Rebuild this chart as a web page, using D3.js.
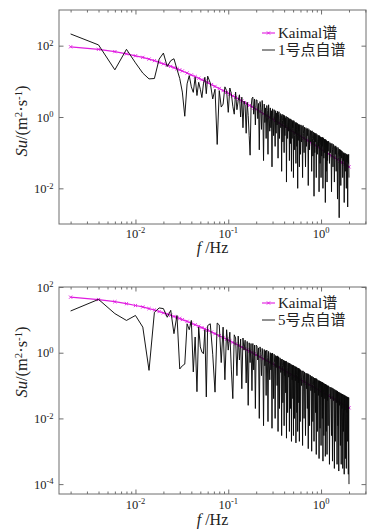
<!DOCTYPE html>
<html>
<head>
<meta charset="utf-8">
<script src="https://cdnjs.cloudflare.com/ajax/libs/d3/7.8.5/d3.min.js"></script>
<style>
  body { margin: 0; background: #fff; }
  svg text { font-family: "Liberation Serif", "Times New Roman", "Noto Sans CJK SC", serif; fill: #222; }
</style>
</head>
<body>
<script>
// spectra are sampled on bins of df = 0.002 Hz
const df = 0.002;

const bins = [
  1,2,3,4,5,6,7,8,9,10,11,12,13,14,15,16,17,18,19,20,21,22,23,24,25,26,27,28,29,30,
  32,34,36,38,40,42,44,46,48,50,52,54,56,58,60,62,64,66,68,70,72,74,76,78,80,82,84,86,88,90,92,94,96,98,100,
  102,104,106,108,110,112,114,116,118,120, 122,124,126,128,130,132,134,136,138,140,
  142,144,146,148,150,152,154,156,158,160, 162,164,166,168,170,172,174,176,178,180,
  182,184,186,188,190,192,194,196,198,200, 202,204,206,208,210,212,214,216,218,220,
  222,224,226,228,230,232,234,236,238,240, 242,244,246,248,250,252,254,256,258,260,
  262,264,266,268,270,272,274,276,278,280, 282,284,286,288,290,292,294,296,298,300,
  304,308,312,316,320,324,328,332,336,340, 344,348,352,356,360,364,368,372,376,380,
  384,388,392,396,400,404,408,412,416,420, 424,428,432,436,440,444,448,452,456,460,
  464,468,472,476,480,484,488,492,496,500, 504,508,512,516,520,524,528,532,536,540,
  544,548,552,556,560,564,568,572,576,580, 584,588,592,596,600,
  608,616,624,632,640,648,656,664,672,680, 688,696,704,712,720,728,736,744,752,760,
  768,776,784,792,800,808,816,824,832,840, 848,856,864,872,880,888,896,904,912,920,
  928,936,944,952,960,968,976,984,992,1000
];

// 1号点自谱
const su1 = [
  213,105,21,79,33,17,11.7,12,42,62, 26,38,43,22,12,5,1.05,8.5,14.5,7,
  4.9,13,4,9.4,6,3.5,8.5,13,4.5,14,
  9,3.2,6,0.17,5.5,1.9,2.3,7,5.5,1.35, 6.5,4.5,2,1.2,5,1.6,2.9,4.2,1.0,3.6,
  0.5,2.8,2.1,0.35,2.6,1.1,0.3,0.085,1.8,3.3, 3.6,1.2,3.2,0.6,3.0,
  3.0,0.9,2.4,0.12,2.7,1.8,0.45,2.9,1.3,0.06, 2.3,0.7,1.8,0.25,2.1,1.5,0.09,2.2,1.0,0.4,
  1.8,0.5,1.5,0.04,1.7,1.1,0.3,1.6,0.8,0.15, 1.5,0.35,1.3,0.6,1.45,0.07,1.2,1.4,0.25,0.9,
  1.25,0.5,1.1,0.03,1.2,0.8,0.2,1.15,0.6,0.1, 1.1,0.3,0.95,0.5,1.05,0.015,0.9,1.0,0.25,0.7,
  0.95,0.4,0.85,0.06,0.9,0.6,0.18,0.88,0.45,0.03, 0.82,0.25,0.75,0.5,0.8,0.02,0.72,0.78,0.3,0.12,
  0.72,0.35,0.66,0.05,0.7,0.45,0.15,0.68,0.3,0.01, 0.64,0.22,0.6,0.4,0.62,0.04,0.58,0.6,0.2,0.09,
  0.6,0.2,0.55,0.02,0.58,0.35,0.1,0.52,0.4,0.04, 0.5,0.15,0.46,0.3,0.48,0.012,0.44,0.45,0.12,0.3,
  0.42,0.2,0.4,0.03,0.41,0.25,0.08,0.38,0.22,0.006, 0.36,0.1,0.34,0.2,0.35,0.02,0.32,0.33,0.09,0.2,
  0.31,0.15,0.3,0.008,0.3,0.18,0.05,0.28,0.16,0.02, 0.27,0.08,0.26,0.15,0.27,0.01,0.25,0.26,0.07,0.14,
  0.24,0.1,0.23,0.004,0.235,0.13,0.03,0.22,0.12,0.015, 0.21,0.06,0.2,0.11,0.21,
  0.2,0.05,0.19,0.1,0.18,0.008,0.18,0.12,0.04,0.17, 0.16,0.015,0.15,0.09,0.155,0.03,0.14,0.1,0.005,0.14,
  0.13,0.06,0.0015,0.125,0.08,0.12,0.012,0.115,0.07,0.11, 0.105,0.02,0.1,0.06,0.1,0.004,0.095,0.07,0.03,0.095,
  0.09,0.01,0.09,0.055,0.088,0.003,0.085,0.05,0.09,0.02
];

// 5号点自谱
const su5 = [
  18.6,42,15.5,9.6,13.6,6.0,0.29,17,23,22, 12,19.5,3.8,13.6,0.32,0.4,0.45,7.6,5,9.6,
  0.26,3,0.065,6,1.5,1.05,0.93,5,0.045,6.7,
  7.6,0.9,0.063,8,7,0.5,6,0.15,5,1.2, 4.2,0.3,0.04,3.5,2.8,0.2,3.2,0.6,2.6,0.08,
  2.8,1.2,2.4,0.12,2.2,0.025,2.0,0.5,1.9,0.07, 1.9,0.3,1.7,0.02,1.7,
  1.6,0.6,1.4,0.01,1.5,1.0,0.2,1.35,0.8,0.006, 1.25,0.4,1.15,0.05,1.2,0.7,0.008,1.1,0.6,0.15,
  1.0,0.3,0.95,0.005,0.98,0.6,0.04,0.9,0.5,0.01, 0.82,0.35,0.78,0.1,0.8,0.004,0.75,0.5,0.02,0.7,
  0.66,0.25,0.63,0.003,0.64,0.4,0.03,0.6,0.35,0.006, 0.57,0.2,0.55,0.06,0.56,0.0025,0.52,0.35,0.015,0.5,
  0.49,0.18,0.47,0.004,0.48,0.3,0.02,0.45,0.25,0.002, 0.43,0.15,0.41,0.04,0.42,0.003,0.4,0.25,0.01,0.39,
  0.38,0.14,0.37,0.0018,0.37,0.22,0.015,0.35,0.2,0.004, 0.34,0.12,0.33,0.03,0.33,0.002,0.31,0.2,0.008,0.3,
  0.29,0.1,0.28,0.0015,0.28,0.17,0.01,0.26,0.15,0.003, 0.24,0.08,0.23,0.02,0.23,0.0012,0.22,0.13,0.006,0.21,
  0.2,0.07,0.19,0.001,0.19,0.11,0.008,0.18,0.1,0.002, 0.17,0.06,0.165,0.015,0.165,0.0008,0.16,0.09,0.004,0.15,
  0.145,0.05,0.14,0.0006,0.14,0.08,0.005,0.135,0.07,0.0015, 0.13,0.045,0.125,0.01,0.125,0.0005,0.12,0.06,0.003,0.115,
  0.112,0.04,0.11,0.0007,0.11,0.055,0.004,0.105,0.05,0.0008, 0.1,0.035,0.098,0.006,0.097,
  0.095,0.0004,0.09,0.04,0.088,0.003,0.085,0.0005,0.082,0.035, 0.078,0.0003,0.075,0.002,0.072,0.03,0.07,0.0004,0.068,0.006,
  0.064,0.00025,0.062,0.025,0.06,0.0015,0.058,0.0004,0.056,0.02, 0.055,0.0003,0.053,0.004,0.052,0.0002,0.05,0.018,0.049,0.0006,
  0.047,0.0003,0.046,0.015,0.045,0.002,0.044,0.0002,0.043,0.0001
];

// Kaimal谱 (markers)
const kaimalBins = [
  1,2,3,4,5,6,7,8,9,10,11,12,13,14,15,16,18,20,22,24,26,28,30,33,36,40,44,48,52,56,
  60,65,70,75,80,85,90,95,100,110,120,130,140,150,160,175,190,205,220,240,
  260,280,300,325,350,375,400,430,460,500,550,600,650,700,750,800,850,900,950,1000
];
const kaimal1 = [
  93,79,68,59,52,47,42,38,34,31, 28.5,26.2,24.2,22.5,21,19.5,17.1,15.1,13.6,12.2,
  11.1,10.1,9.2,8.1,7.2,6.3,5.5,4.9,4.35,3.9, 3.54,3.15,2.82,2.54,2.31,2.11,1.93,1.78,1.64,1.42,
  1.24,1.095,0.975,0.875,0.79,0.686,0.601,0.533,0.476,0.414, 0.364,0.323,0.288,0.253,0.224,0.201,0.181,0.161,0.144,0.125,
  0.107,0.093,0.0816,0.072,0.064,0.058,0.0524,0.048,0.0436,0.040
];
const kaimal5 = [
  49,41.5,35.7,31,27.3,24.7,22,20,17.9,16.3, 15,13.8,12.7,11.8,11,10.2,9.0,7.9,7.1,6.4,
  5.8,5.3,4.8,4.25,3.8,3.3,2.9,2.57,2.28,2.05, 1.86,1.65,1.48,1.33,1.21,1.11,1.01,0.93,0.86,0.75,
  0.65,0.575,0.51,0.46,0.415,0.36,0.316,0.28,0.25,0.217, 0.191,0.17,0.151,0.133,0.118,0.106,0.095,0.085,0.076,0.066,
  0.056,0.049,0.043,0.038,0.034,0.030,0.0275,0.025,0.023,0.021
];

const xTicks = [0.01, 0.1, 1];
const xTickExp = ["-2", "-1", "0"];
const yTicks1 = [1e-2, 1, 1e2];
const yTickExp1 = ["-2", "0", "2"];
const yTicks5 = [1e-4, 1e-2, 1, 1e2];
const yTickExp5 = ["-4", "-2", "0", "2"];

const W = 374, H = 530;
const left = 59, right = 366;
const axisCol = "#6e6e6e", magenta = "#e01ce0";
const FONT = '"Liberation Serif", "Times New Roman", "Noto Sans CJK SC", serif';

const svg = d3.select("body").append("svg").attr("width", W).attr("height", H)
  .attr("font-family", FONT);

const panels = [
  { top: 10, bottom: 224, yDomain: [1e-3, 1e3], yTicks: yTicks1, yExp: yTickExp1,
    su: su1, kaimal: kaimal1, name: "1号点自谱",
    legendY: [33, 50], xLabelY: 237.5, xTitleY: 253, yTitleY: 121 },
  { top: 287, bottom: 494, yDomain: [5e-5, 100], yTicks: yTicks5, yExp: yTickExp5,
    su: su5, kaimal: kaimal5, name: "5号点自谱",
    legendY: [303, 320], xLabelY: 508.5, xTitleY: 525, yTitleY: 362 }
];

function powLabel(t, e) {
  t.append("tspan").text("10");
  t.append("tspan").attr("dy", "-0.5em").attr("font-size", "0.68em").text(e);
}

const xMark = "M-1.6,-1.6L1.6,1.6M-1.6,1.6L1.6,-1.6";

function drawPanel(p) {
  const x = d3.scaleLog().domain([0.0015, 3.05]).range([left, right]);
  const y = d3.scaleLog().domain(p.yDomain).range([p.bottom, p.top]);
  const g = svg.append("g");

  const isMajor = t => Math.abs(Math.log10(t) - Math.round(Math.log10(t))) < 1e-9;
  const xMinor = x.ticks().filter(t => !isMajor(t));

  const styleAxis = a => {
    a.select(".domain").remove();
    a.selectAll("line").attr("stroke", axisCol);
  };
  g.append("g").attr("transform", `translate(0,${p.bottom})`)
    .call(d3.axisBottom(x).tickValues(xMinor).tickSize(-2.5).tickFormat("")).call(styleAxis);
  g.append("g").attr("transform", `translate(0,${p.bottom})`)
    .call(d3.axisBottom(x).tickValues(xTicks).tickSize(-4.5).tickFormat("")).call(styleAxis);
  g.append("g").attr("transform", `translate(0,${p.top})`)
    .call(d3.axisTop(x).tickValues(xMinor).tickSize(-2.5).tickFormat("")).call(styleAxis);
  g.append("g").attr("transform", `translate(0,${p.top})`)
    .call(d3.axisTop(x).tickValues(xTicks).tickSize(-4.5).tickFormat("")).call(styleAxis);
  g.append("g").attr("transform", `translate(${left},0)`)
    .call(d3.axisLeft(y).tickValues(p.yTicks).tickSize(-4.5).tickFormat("")).call(styleAxis);
  g.append("g").attr("transform", `translate(${right},0)`)
    .call(d3.axisRight(y).tickValues(p.yTicks).tickSize(-4.5).tickFormat("")).call(styleAxis);

  g.append("rect")
    .attr("x", left).attr("y", p.top)
    .attr("width", right - left).attr("height", p.bottom - p.top)
    .attr("fill", "none").attr("stroke", axisCol).attr("stroke-width", 1);

  // tick labels
  xTicks.forEach((t, i) => {
    const tx = g.append("text").attr("x", x(t)).attr("y", p.xLabelY)
      .attr("text-anchor", "middle").attr("font-size", 12.5);
    powLabel(tx, xTickExp[i]);
  });
  p.yTicks.forEach((t, i) => {
    const ty = g.append("text").attr("x", 53.5).attr("y", y(t) + 4.5)
      .attr("text-anchor", "end").attr("font-size", 12.5);
    powLabel(ty, p.yExp[i]);
  });

  // axis titles
  const xt = g.append("text").attr("x", (left + right) / 2).attr("y", p.xTitleY)
    .attr("text-anchor", "middle").attr("font-size", 16);
  xt.append("tspan").attr("font-style", "italic").text("f");
  xt.append("tspan").text(" /Hz");

  const yt = g.append("text")
    .attr("transform", `translate(27,${p.yTitleY}) rotate(-90)`)
    .attr("text-anchor", "middle").attr("font-size", 16.5);
  yt.append("tspan").attr("font-style", "italic").text("Su");
  yt.append("tspan").text("/(m");
  yt.append("tspan").attr("dy", "-0.45em").attr("font-size", "0.65em").text("2");
  yt.append("tspan").attr("dy", "0.3em").text("·s");
  yt.append("tspan").attr("dy", "-0.45em").attr("font-size", "0.65em").text("-1");
  yt.append("tspan").attr("dy", "0.3em").text(")");

  // Kaimal spectrum
  const kData = kaimalBins.map((b, i) => ({ f: b * df, v: p.kaimal[i] }));
  const line = d3.line().x(d => x(d.f)).y(d => y(d.v));
  g.append("path").datum(kData).attr("d", line)
    .attr("fill", "none").attr("stroke", magenta).attr("stroke-width", 1.2);
  g.selectAll(".km").data(kData).enter().append("path")
    .attr("transform", d => `translate(${x(d.f)},${y(d.v)})`)
    .attr("d", xMark).attr("stroke", magenta).attr("stroke-width", 0.9).attr("fill", "none");

  // measured auto-spectrum
  const sData = bins.map((b, i) => ({ f: b * df, v: p.su[i] }));
  g.append("path").datum(sData).attr("d", line)
    .attr("fill", "none").attr("stroke", "#0a0a0a").attr("stroke-width", 0.95);

  // legend
  const lx0 = 262, lx1 = 275, tx = 278;
  g.append("line").attr("x1", lx0).attr("x2", lx1)
    .attr("y1", p.legendY[0]).attr("y2", p.legendY[0])
    .attr("stroke", magenta).attr("stroke-width", 1.1);
  g.append("path").attr("transform", `translate(${(lx0 + lx1) / 2},${p.legendY[0]})`)
    .attr("d", xMark).attr("stroke", magenta).attr("stroke-width", 0.9);
  g.append("text").attr("x", tx).attr("y", p.legendY[0] + 5)
    .attr("font-size", 15).text("Kaimal谱");
  g.append("line").attr("x1", lx0).attr("x2", lx1)
    .attr("y1", p.legendY[1]).attr("y2", p.legendY[1])
    .attr("stroke", "#222").attr("stroke-width", 1);
  g.append("text").attr("x", tx).attr("y", p.legendY[1] + 5)
    .attr("font-size", 15).text(p.name);
}

panels.forEach(drawPanel);
</script>
</body>
</html>
